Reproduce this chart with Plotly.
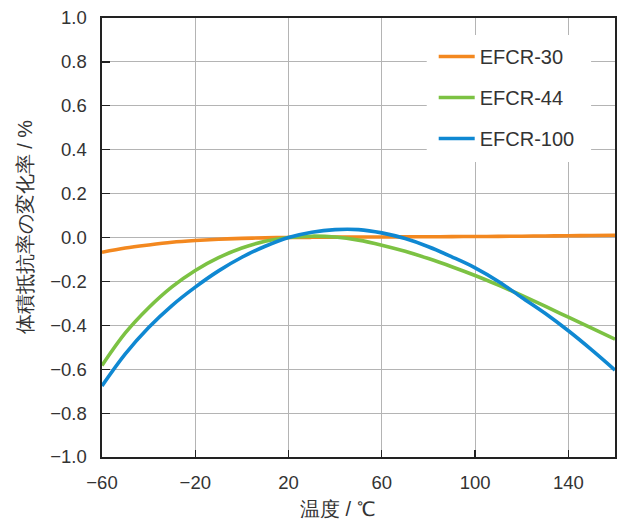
import plotly.graph_objects as go

temps = [-60, -50, -40, -30, -20, -10, 0, 10, 20, 30, 40, 50, 60, 70, 80, 90, 100, 110, 120, 130, 140, 150, 160]

efcr30 = [-0.067, -0.048, -0.034, -0.022, -0.014, -0.008, -0.004, -0.0015, 0.0, 0.0008, 0.0015, 0.002, 0.0025,
          0.003, 0.0035, 0.004, 0.0045, 0.005, 0.006, 0.007, 0.008, 0.009, 0.010]
efcr44 = [-0.583, -0.435, -0.320, -0.225, -0.150, -0.092, -0.048, -0.017, 0.0, 0.006, 0.002, -0.012, -0.035,
          -0.063, -0.096, -0.133, -0.173, -0.217, -0.264, -0.313, -0.363, -0.413, -0.463]
efcr100 = [-0.676, -0.530, -0.410, -0.310, -0.226, -0.152, -0.090, -0.040, 0.0, 0.024, 0.036, 0.036, 0.021,
           -0.005, -0.042, -0.088, -0.138, -0.200, -0.273, -0.345, -0.425, -0.512, -0.604]

series_names = ["EFCR-30", "EFCR-44", "EFCR-100"]
series_values = [efcr30, efcr44, efcr100]
series_colors = ["#F3881F", "#7CC243", "#0F88D2"]

x_ticks = [-60, -20, 20, 60, 100, 140]
y_ticks = [-1.0, -0.8, -0.6, -0.4, -0.2, 0.0, 0.2, 0.4, 0.6, 0.8, 1.0]

x_title = "温度 / ℃"
y_title = "体積抵抗率の変化率 / %"

FONT = "Liberation Sans, Arial, Helvetica, sans-serif"
TEXT = "#333333"

fig = go.Figure()
for name, vals, col in zip(series_names, series_values, series_colors):
    fig.add_trace(go.Scatter(
        x=temps, y=vals, name=name, mode="lines", legendgroup=name,
        line=dict(color=col, width=3.6, shape="spline", smoothing=1.0),
    ))

W, H = 622, 520
SL, SR, ST, SB = 102, 617, 18, 457          # plot area in page pixels
pw, ph = SR - SL, SB - ST

def px_x(p):
    return (p - SL) / pw

def px_y(p):
    return (SB - p) / ph

fig.update_layout(
    width=W, height=H,
    margin=dict(l=SL, r=W - SR, t=ST, b=H - SB, pad=0),
    paper_bgcolor="white", plot_bgcolor="white",
    font=dict(family=FONT, color=TEXT, size=18),
    showlegend=True,
    legend=dict(
        x=px_x(435), y=px_y(37), xanchor="left", yanchor="top",
        bgcolor="rgba(0,0,0,0)", borderwidth=0,
        font=dict(family=FONT, size=20, color=TEXT),
        tracegroupgap=12, traceorder="grouped", itemwidth=36,
    ),
    shapes=[dict(
        type="rect", xref="paper", yref="paper",
        x0=px_x(428), x1=px_x(593), y0=px_y(162), y1=px_y(35),
        fillcolor="white", line=dict(width=0), layer="above",
    )],
    annotations=[
        dict(text=x_title, xref="paper", yref="paper", x=px_x(338), y=px_y(509),
             xanchor="center", yanchor="middle", showarrow=False,
             font=dict(family=FONT, size=20, color=TEXT)),
        dict(text=y_title, xref="paper", yref="paper", x=px_x(25), y=px_y(227),
             xanchor="center", yanchor="middle", showarrow=False, textangle=-90,
             font=dict(family=FONT, size=20, color=TEXT)),
    ],
)

fig.update_xaxes(
    range=[-60, 160], tickvals=x_ticks, ticktext=[("−" + str(-v)) if v < 0 else str(v) for v in x_ticks],
    showgrid=True, gridcolor="#b4b4b4", gridwidth=1,
    showline=True, linecolor="#222222", linewidth=1.6, mirror=True,
    ticks="inside", ticklen=7, tickcolor="#222222", tickwidth=1.2,
    tickfont=dict(family=FONT, size=18.5, color=TEXT), ticklabelstandoff=8,
    ticklabeloverflow="allow", zeroline=False, fixedrange=True,
)
fig.update_yaxes(
    range=[-1.0, 1.0], tickvals=y_ticks, tickformat=".1f",
    showgrid=True, gridcolor="#b4b4b4", gridwidth=1,
    showline=True, linecolor="#222222", linewidth=1.6, mirror=True,
    ticks="inside", ticklen=8, tickcolor="#222222", tickwidth=1.2,
    tickfont=dict(family=FONT, size=18.5, color=TEXT), ticklabelstandoff=10,
    ticklabeloverflow="allow", zeroline=False, fixedrange=True,
)

fig.write_html(
    "out.html",
    config={"displayModeBar": False, "staticPlot": True},
    post_script="document.body.style.margin='0';document.body.style.overflow='hidden';",
)
